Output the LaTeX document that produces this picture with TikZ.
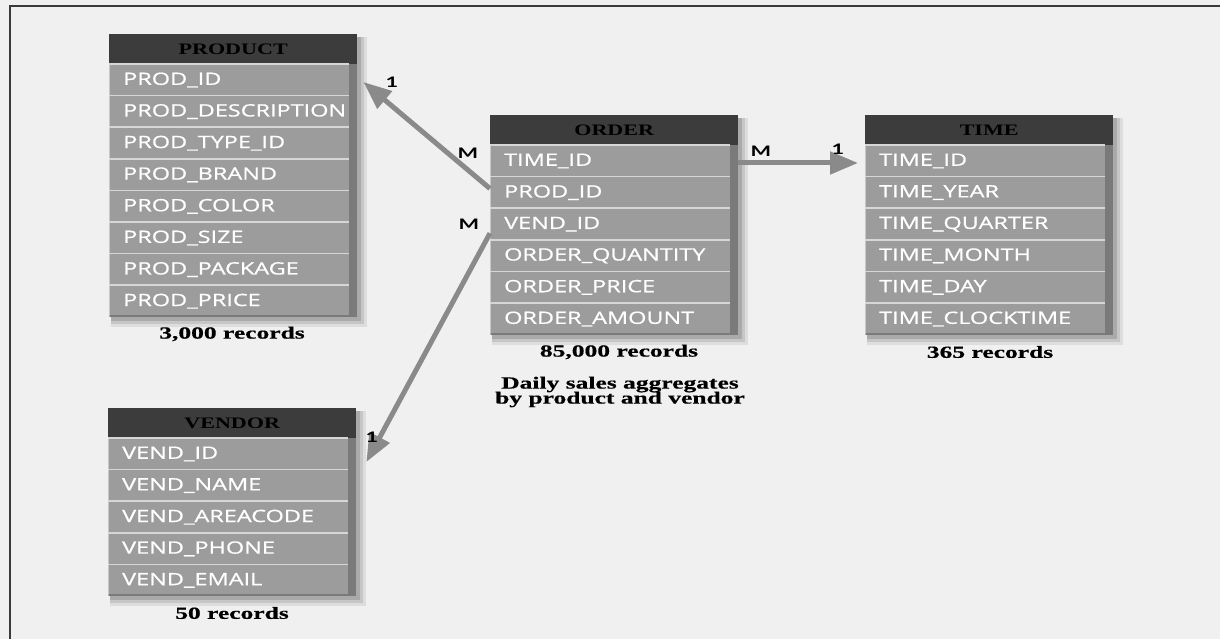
\documentclass[tikz,border=0pt]{standalone}
\usepackage{fontspec}
\usetikzlibrary{arrows.meta}

\newfontfamily\fldfont[FakeStretch=1.38, FakeBold=0.8]{Open Sans}
\newfontfamily\hdrfont[FakeStretch=1.38]{Liberation Serif}
\newfontfamily\capfont[FakeStretch=1.5, FakeBold=0.6]{Liberation Serif}
\newfontfamily\cardfont[FakeStretch=1.5]{Lato}

\definecolor{pagebg}{HTML}{F0F0F0}
\definecolor{rowgray}{HTML}{9C9C9C}
\definecolor{edgegray}{HTML}{7A7A7A}
\definecolor{hdrgray}{HTML}{3C3C3C}
\definecolor{sepgray}{HTML}{D6D6D6}
\definecolor{arrowgray}{HTML}{8A8A8A}
\definecolor{framegray}{HTML}{3A3A3A}

\tikzset{
  tblframe/.style={draw=none, fill=rowgray, inner sep=0pt, anchor=north west,
    minimum width=248pt},
  tblhead/.style={fill=hdrgray, inner sep=0pt, anchor=north west,
    minimum width=248pt, minimum height=30pt, text=black,
    font=\hdrfont\bfseries\fontsize{16}{16}\selectfont},
  tblfield/.style={inner ysep=0pt, inner xsep=14pt, anchor=north west,
    text width=212pt, minimum height=31.6pt, align=left, text=white,
    font=\fldfont\fontsize{17}{17}\selectfont},
  reccount/.style={font=\capfont\bfseries\fontsize{17}{17}\selectfont, text=black,
    inner sep=0pt},
  card/.style={font=\cardfont\bfseries\fontsize{14.5}{14.5}\selectfont, text=black,
    inner sep=0pt},
  rel/.style={draw=arrowgray, line width=5pt,
    -{Triangle[length=28pt,width=22pt]}},
}

% #1 id, #2 left x, #3 top y, #4 title, #5 number of fields, #6 fields
\newcommand\ertable[6]{%
  \pgfmathsetmacro\tblh{30+31.6*#5}%
  % soft drop shadow
  \fill[black, opacity=.08] (#2+2,#3+3) rectangle (#2+248+10,#3+\tblh+10);
  \fill[black, opacity=.10] (#2+2,#3+3) rectangle (#2+248+7,#3+\tblh+7);
  \fill[black, opacity=.14] (#2+2,#3+3) rectangle (#2+248+4,#3+\tblh+4);
  \node[tblframe, minimum height=\tblh pt] (#1) at (#2,#3) {};
  % bevelled right and bottom edges, light left edge
  \fill[edgegray] ([xshift=-8pt]#1.north east) rectangle (#1.south east);
  \fill[edgegray] (#1.south west) rectangle ([yshift=2pt]#1.south east);
  \draw[white, opacity=.45, line width=1.2pt]
    ([xshift=.6pt]#1.south west) -- ([xshift=.6pt]#1.north west);
  \node[tblhead] (#1-title) at (#1.north west) {#4};
  \foreach \f [count=\i] in {#6} {
    \node[tblfield] (#1-f\i) at ([yshift={-30pt-31.6pt*(\i-1)}]#1.north west) {\f};
    \draw[sepgray, line width=1.6pt] (#1-f\i.north west) -- (#1-f\i.north east);
  }%
}

\begin{document}
\begin{tikzpicture}[x=1pt, y=-1pt]
  \useasboundingbox (0,0) rectangle (1220,639);
  \fill[pagebg] (0,0) rectangle (1220,639);
  \draw[framegray, line width=2pt] (9.5,639) -- (9.5,6) -- (1220,6);

  \ertable{product}{109}{34}{PRODUCT}{8}{PROD\_ID,PROD\_DESCRIPTION,PROD\_TYPE\_ID,PROD\_BRAND,PROD\_COLOR,PROD\_SIZE,PROD\_PACKAGE,PROD\_PRICE}
  \ertable{order}{490}{115}{ORDER}{6}{TIME\_ID,PROD\_ID,VEND\_ID,ORDER\_QUANTITY,ORDER\_PRICE,ORDER\_AMOUNT}
  \ertable{time}{865}{115}{TIME}{6}{TIME\_ID,TIME\_YEAR,TIME\_QUARTER,TIME\_MONTH,TIME\_DAY,TIME\_CLOCKTIME}
  \ertable{vendor}{108}{408}{VENDOR}{5}{VEND\_ID,VEND\_NAME,VEND\_AREACODE,VEND\_PHONE,VEND\_EMAIL}

  % record counts and notes
  \node[reccount] (product-n) at (232,334) {3,000 records};
  \node[reccount] (order-n) at (619,352) {85,000 records};
  \node[reccount] (time-n) at (990,352) {365 records};
  \node[reccount] (vendor-n) at (232,613) {50 records};
  \node[reccount, align=center] (order-note) at (620,392)
    {Daily sales aggregates\\[-2pt]by product and vendor};

  % relationships
  \draw[rel] ([yshift=4pt]order-f2.west) -- ([xshift=14pt,yshift=-2pt]product-f1.east);
  \draw[rel] ([yshift=-9pt]order-f3.west) -- ([xshift=18pt,yshift=-8pt]vendor-f1.east);
  \draw[rel] ([xshift=8pt,yshift=-2pt]order-f1.east) -- ([xshift=-7pt,yshift=-2pt]time-f1.west);

  % cardinalities
  \node[card] (c-p1) at (392,82) {1};
  \node[card] (c-pm) at (468,153) {M};
  \node[card] (c-vm) at (469,224) {M};
  \node[card] (c-v1) at (372,437) {1};
  \node[card] (c-tm) at (761,151) {M};
  \node[card] (c-t1) at (838,149) {1};
\end{tikzpicture}
\end{document}
